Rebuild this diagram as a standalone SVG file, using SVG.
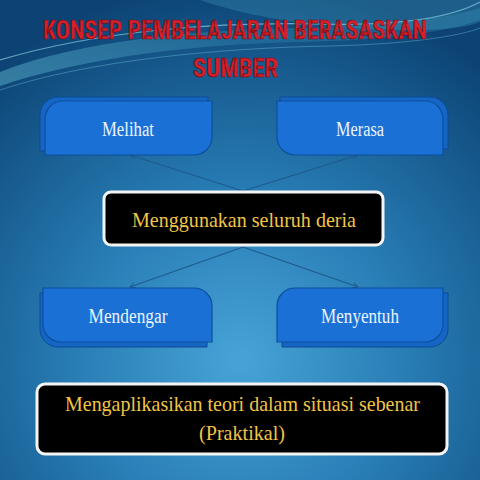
<svg xmlns="http://www.w3.org/2000/svg" width="480" height="480" viewBox="0 0 480 480">
<defs>
<radialGradient id="bg" cx="240" cy="360" r="380" gradientUnits="userSpaceOnUse">
<stop offset="0" stop-color="#47a3d7"/>
<stop offset="0.45" stop-color="#277cb4"/>
<stop offset="1" stop-color="#0c4374"/>
</radialGradient>
<linearGradient id="sw" x1="0" y1="0" x2="1" y2="0">
<stop offset="0" stop-color="#7fe0f0" stop-opacity="0.7"/>
<stop offset="0.5" stop-color="#5cc8e0" stop-opacity="0.35"/>
<stop offset="1" stop-color="#3aa0c8" stop-opacity="0.5"/>
</linearGradient>
<marker id="arr" viewBox="0 0 8 8" refX="7" refY="4" markerWidth="7" markerHeight="7" orient="auto" markerUnits="userSpaceOnUse">
<path d="M1 1 L7 4 L1 7" fill="none" stroke="#1f5a8c" stroke-width="1.1"/>
</marker>
</defs>
<style>
.back{fill:#1566c4;stroke:#0c4a94;stroke-width:1}
.front{fill:#1b70d6;stroke:#0d4f9e;stroke-width:1.2}
.lbl{font-family:"Liberation Serif","DejaVu Serif",serif;font-size:20px;fill:#eaf4ff;text-anchor:middle}
.dark{fill:#000;stroke:#f4f4f4;stroke-width:3}
.gold{font-family:"Liberation Serif","DejaVu Serif",serif;fill:#f2c447;text-anchor:middle}
.title{font-family:"Liberation Sans Narrow","Roboto Condensed","Roboto","Liberation Sans",sans-serif;font-weight:bold;font-size:26px;fill:#d91f2a;stroke:#6a0d12;stroke-width:0.6;text-anchor:middle}
.conn{stroke:#1f5a8c;stroke-width:1.1;fill:none}
</style>
<rect width="480" height="480" fill="url(#bg)"/>
<g id="swoosh">
<path d="M0 72 C80 40 200 30 300 28 C380 26 440 20 480 8 L480 20 C440 34 380 40 300 42 C200 44 90 56 0 86 Z" fill="url(#sw)" opacity="0.5"/>
<path d="M0 60 C100 30 220 22 320 24 C400 26 450 18 480 2" fill="none" stroke="#a8f0ff" stroke-width="1.2" opacity="0.55"/>
<path d="M200 0 C260 20 330 30 420 30 C450 30 470 26 480 22 L480 0 Z" fill="#5cc6dc" opacity="0.22"/>
<path d="M0 90 C90 60 220 48 330 46 C410 44 460 36 480 28" fill="none" stroke="#8ee6f5" stroke-width="0.8" opacity="0.4"/>
</g>
<g id="title">
<text class="title" x="235" y="39" textLength="384" lengthAdjust="spacingAndGlyphs">KONSEP PEMBELAJARAN BERASASKAN</text>
<text class="title" x="235.5" y="77" textLength="85" lengthAdjust="spacingAndGlyphs">SUMBER</text>
</g>
<g id="connectors">
<line class="conn" x1="243" y1="191" x2="130" y2="155" marker-end="url(#arr)"/>
<line class="conn" x1="243" y1="191" x2="358" y2="155" marker-end="url(#arr)"/>
<line class="conn" x1="243" y1="247" x2="130" y2="287" marker-end="url(#arr)"/>
<line class="conn" x1="243" y1="247" x2="358" y2="287" marker-end="url(#arr)"/>
</g>
<g id="melihat">
<path class="back" d="M58 97 H208 V133 A18 18 0 0 1 190 151 H40 V115 A18 18 0 0 1 58 97 Z"/>
<path class="front" d="M63 101 H212 V137 A18 18 0 0 1 194 155 H45 V119 A18 18 0 0 1 63 101 Z"/>
<text class="lbl" x="128" y="136" textLength="52" lengthAdjust="spacingAndGlyphs">Melihat</text>
</g>
<g id="merasa">
<path class="back" d="M280 97 H430 A18 18 0 0 1 448 115 V149 H298 A18 18 0 0 1 280 131 Z"/>
<path class="front" d="M277 101 H425 A18 18 0 0 1 443 119 V155 H295 A18 18 0 0 1 277 137 Z"/>
<text class="lbl" x="360" y="136" textLength="48" lengthAdjust="spacingAndGlyphs">Merasa</text>
</g>
<g id="menggunakan">
<rect class="dark" x="104" y="192" width="279" height="53" rx="7"/>
<text class="gold" x="244" y="227" font-size="22" textLength="224" lengthAdjust="spacingAndGlyphs">Menggunakan seluruh deria</text>
</g>
<g id="mendengar">
<path class="back" d="M40 293 H189 A18 18 0 0 1 207 311 V347 H58 A18 18 0 0 1 40 329 Z"/>
<path class="front" d="M43 288 H194 A18 18 0 0 1 212 306 V342 H61 A18 18 0 0 1 43 324 Z"/>
<text class="lbl" x="128" y="323" textLength="79" lengthAdjust="spacingAndGlyphs">Mendengar</text>
</g>
<g id="menyentuh">
<path class="back" d="M300 293 H448 V329 A18 18 0 0 1 430 347 H282 V311 A18 18 0 0 1 300 293 Z"/>
<path class="front" d="M295 288 H443 V324 A18 18 0 0 1 425 342 H277 V306 A18 18 0 0 1 295 288 Z"/>
<text class="lbl" x="360" y="323" textLength="78" lengthAdjust="spacingAndGlyphs">Menyentuh</text>
</g>
<g id="praktikal">
<rect class="dark" x="37" y="384" width="410" height="70" rx="8"/>
<text class="gold" x="242.5" y="411" font-size="22" textLength="355" lengthAdjust="spacingAndGlyphs">Mengaplikasikan teori dalam situasi sebenar</text>
<text class="gold" x="242" y="440" font-size="22" textLength="86" lengthAdjust="spacingAndGlyphs">(Praktikal)</text>
</g>
</svg>
